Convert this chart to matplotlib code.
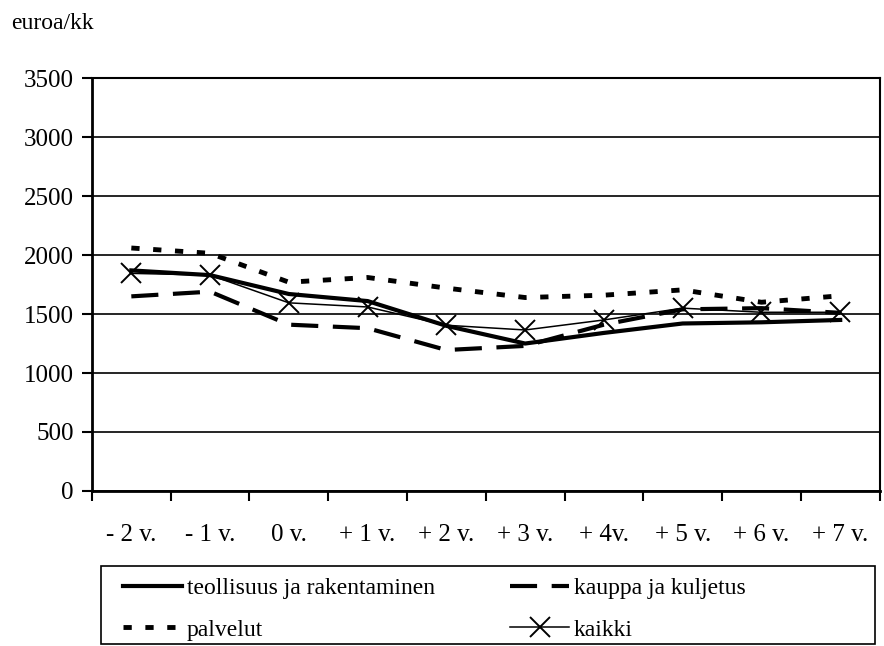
import numpy as np
import matplotlib.pyplot as plt
from matplotlib.patches import Rectangle

plt.rcParams['font.family'] = ['Liberation Serif', 'DejaVu Serif']

labels = ["- 2 v.", "- 1 v.", "0 v.", "+ 1 v.", "+ 2 v.", "+ 3 v.", "+ 4v.", "+ 5 v.", "+ 6 v.", "+ 7 v."]
teollisuus = [1870, 1830, 1670, 1610, 1400, 1250, 1340, 1420, 1430, 1450]
kauppa = [1650, 1690, 1410, 1380, 1195, 1230, 1410, 1540, 1550, 1510]
palvelut = [2060, 2015, 1770, 1810, 1720, 1640, 1660, 1705, 1600, 1655]
kaikki = [1845, 1830, 1595, 1560, 1405, 1365, 1450, 1550, 1515, 1515]

x = np.arange(len(labels))

fig = plt.figure(figsize=(8.84, 6.46), dpi=100)
ax = fig.add_axes([0.104, 0.24, 0.891, 0.639])

l1, = ax.plot(x, teollisuus, color='black', lw=3, label='teollisuus ja rakentaminen', zorder=4)
l2, = ax.plot(x, kauppa, color='black', lw=3, dashes=(6.5, 3.5), label='kauppa ja kuljetus', zorder=4)
l3, = ax.plot(x, palvelut, color='black', lw=3.5, dashes=(1.7, 2.8), label='palvelut', zorder=4)
l4, = ax.plot(x, kaikki, color='black', lw=1.1, marker='x', markersize=14, markeredgewidth=1.4,
              label='kaikki', zorder=5)

ax.set_xlim(-0.5, len(labels) - 0.5)
ax.set_ylim(0, 3500)
ax.set_yticks(np.arange(0, 3501, 500))
ax.yaxis.grid(True, color='black', lw=1.2)
ax.set_axisbelow(True)

ax.set_xticks(x)
ax.set_xticklabels(labels)
ax.set_xticks(np.arange(-0.5, len(labels)), minor=True)
ax.tick_params(axis='x', which='major', length=0, pad=24, labelsize=18)
ax.tick_params(axis='x', which='minor', length=7, width=1.5, direction='out')
ax.tick_params(axis='y', length=7, width=1.5, direction='out', labelsize=18, pad=6)

for side in ['left', 'bottom']:
    ax.spines[side].set_linewidth(2)
ax.spines['right'].set_linewidth(1.5)
ax.spines['top'].set_linewidth(1.5)

fig.text(0.013, 0.964, 'euroa/kk', fontsize=17, ha='left', va='center')

# legend box
fig.patches.append(Rectangle((0.114, 0.003), 0.876, 0.1207, transform=fig.transFigure,
                             fill=False, edgecolor='black', lw=1.2))

leg = fig.legend([l1, l3, l2, l4], [l.get_label() for l in (l1, l3, l2, l4)],
                 loc='upper left', bbox_to_anchor=(0.139, 0.106),
                 ncol=2, fontsize=17, frameon=False,
                 handlelength=2.5, handletextpad=0.2, columnspacing=3.2,
                 borderaxespad=0, labelspacing=0.85, borderpad=0)

fig.savefig('out.png', dpi=100)
